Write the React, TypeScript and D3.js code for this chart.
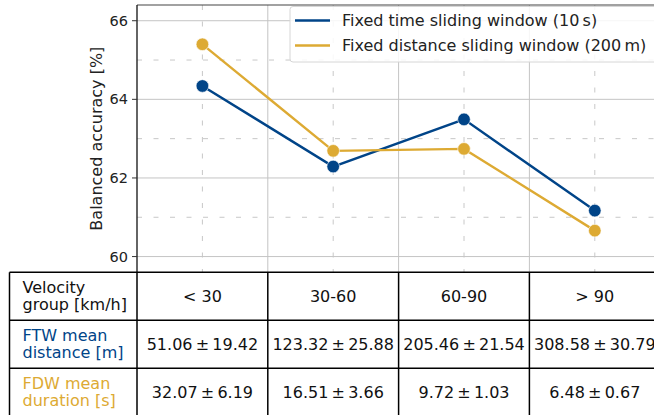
import React from "react";
import * as d3 from "d3";

// Velocity groups and balanced accuracy per windowing method
const groups = ["< 30", "30-60", "60-90", "> 90"];
const ftwAccuracy = [64.34, 62.29, 63.49, 61.17];
const fdwAccuracy = [65.4, 62.69, 62.74, 60.66];

// Table statistics (mean ± std)
const ftwDistMean = [51.06, 123.32, 205.46, 308.58];
const ftwDistStd = [19.42, 25.88, 21.54, 30.79];
const fdwDurMean = [32.07, 16.51, 9.72, 6.48];
const fdwDurStd = [6.19, 3.66, 1.03, 0.67];

const yTicks = [60, 62, 64, 66];
const yMinorTicks = [61, 63, 65];

const seriesLabels = [
  "Fixed time sliding window (10\u2009s)",
  "Fixed distance sliding window (200\u2009m)",
];

const BLUE = "#004488";
const YELLOW = "#DDAA33";

const W = 654;
const H = 415;
const FONT = "'DejaVu Sans', sans-serif";

export default function App() {
  const left = 137;
  const colW = 130.8;
  const right = left + colW * groups.length;
  const top = 5;
  const bottom = 272.3;
  const tableLeft = 9.5;
  const rowH = 48;

  const x = d3.scalePoint<string>().domain(groups).range([left, right]).padding(0.5);
  const y = d3.scaleLinear().domain([59.6, 66.4]).range([bottom, top]);

  const line = d3
    .line<number>()
    .x((_, i) => x(groups[i]) as number)
    .y((d) => y(d));

  const series = [
    { values: ftwAccuracy, color: BLUE, label: seriesLabels[0] },
    { values: fdwAccuracy, color: YELLOW, label: seriesLabels[1] },
  ];

  const boundaries = groups.slice(1).map((g) => (x(g) as number) - colW / 2);
  const colEdges = [tableLeft, left, ...boundaries, right];
  const rowEdges = [0, 1, 2, 3].map((i) => bottom + i * rowH);

  const fmt = (m: number, s: number) => `${m.toFixed(2)}\u2009±\u2009${s.toFixed(2)}`;
  const rows = [
    { head: ["Velocity", "group [km/h]"], color: "#111", cells: groups },
    {
      head: ["FTW mean", "distance [m]"],
      color: BLUE,
      cells: ftwDistMean.map((m, i) => fmt(m, ftwDistStd[i])),
    },
    {
      head: ["FDW mean", "duration [s]"],
      color: YELLOW,
      cells: fdwDurMean.map((m, i) => fmt(m, fdwDurStd[i])),
    },
  ];

  return (
    <svg
      width={W}
      height={H}
      style={{ position: "absolute", left: 0, top: 0, background: "#fff" }}
      fontFamily={FONT}
    >
      <rect x={0} y={0} width={W} height={H} fill="#fff" />
      {/* minor grid */}
      {yMinorTicks.map((t) => (
        <line key={"ym" + t} x1={left} x2={right} y1={y(t)} y2={y(t)} stroke="#c8c8c8" strokeWidth={1} strokeDasharray="5,11.5" />
      ))}
      {groups.map((g) => (
        <line key={"xm" + g} x1={x(g)} x2={x(g)} y1={top} y2={bottom} stroke="#c8c8c8" strokeWidth={1} strokeDasharray="5,11.5" />
      ))}
      {/* major grid */}
      {yTicks.map((t) => (
        <line key={"yg" + t} x1={left} x2={right} y1={y(t)} y2={y(t)} stroke="#c4c4c4" strokeWidth={1} />
      ))}
      {boundaries.map((b, i) => (
        <line key={"xg" + i} x1={b} x2={b} y1={top} y2={bottom} stroke="#c4c4c4" strokeWidth={1} />
      ))}

      {/* spines */}
      <line x1={left} x2={right} y1={top} y2={top} stroke="#444" strokeWidth={1.2} />
      <line x1={left} x2={left} y1={top} y2={bottom} stroke="#111" strokeWidth={1.3} />

      {/* y ticks */}
      {yTicks.map((t) => (
        <g key={"yt" + t}>
          <line x1={left - 5} x2={left} y1={y(t)} y2={y(t)} stroke="#333" strokeWidth={1} />
          <text x={left - 9} y={y(t)} textAnchor="end" dominantBaseline="central" fontSize={14.5} fill="#222">
            {t}
          </text>
        </g>
      ))}
      <text
        transform={`translate(102,${(top + bottom) / 2}) rotate(-90)`}
        textAnchor="middle"
        fontSize={16}
        fill="#222"
      >
        Balanced accuracy [%]
      </text>

      {/* series */}
      {series.map((s) => (
        <g key={s.color}>
          <path d={line(s.values) as string} fill="none" stroke={s.color} strokeWidth={2.4} />
          {s.values.map((v, i) => (
            <circle key={i} cx={x(groups[i])} cy={y(v)} r={6.3} fill={s.color} stroke="#fff" strokeWidth={0.6} />
          ))}
        </g>
      ))}

      {/* legend */}
      <rect x={290} y={6.5} width={380} height={55.5} rx={3} fill="#fff" fillOpacity={0.85} stroke="#d6d6d6" strokeWidth={1} />
      {series.map((s, i) => (
        <g key={"lg" + i}>
          <line x1={295} x2={330} y1={20.5 + i * 25} y2={20.5 + i * 25} stroke={s.color} strokeWidth={2.4} />
          <text x={342} y={20.5 + i * 25} dominantBaseline="central" fontSize={16} fill="#222">
            {s.label}
          </text>
        </g>
      ))}

      {/* table */}
      {rows.map((r, ri) => {
        const cy = (rowEdges[ri] + rowEdges[ri + 1]) / 2;
        return (
          <g key={"row" + ri}>
            <text x={tableLeft + 13} y={cy - 8.5} dominantBaseline="central" fontSize={16} fill={r.color}>
              {r.head[0]}
            </text>
            <text x={tableLeft + 13} y={cy + 8.5} dominantBaseline="central" fontSize={16} fill={r.color}>
              {r.head[1]}
            </text>
            {r.cells.map((c, ci) => (
              <text
                key={ci}
                x={x(groups[ci])}
                y={cy}
                textAnchor="middle"
                dominantBaseline="central"
                fontSize={16}
                fill="#111"
              >
                {c}
              </text>
            ))}
          </g>
        );
      })}
      {rowEdges.map((ry, i) => (
        <line key={"hr" + i} x1={tableLeft} x2={right} y1={ry} y2={ry} stroke="#000" strokeWidth={1.5} />
      ))}
      {colEdges.map((cx, i) => (
        <line key={"vr" + i} x1={cx} x2={cx} y1={bottom} y2={bottom + 3 * rowH} stroke="#000" strokeWidth={1.5} />
      ))}
    </svg>
  );
}
